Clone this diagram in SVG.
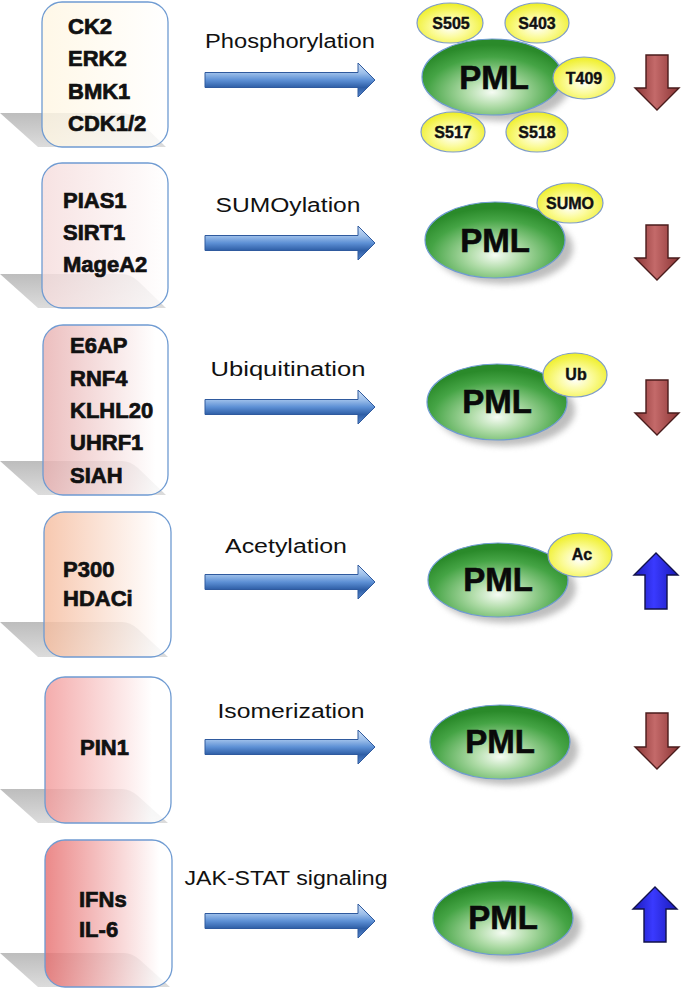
<svg xmlns="http://www.w3.org/2000/svg" width="686" height="992" viewBox="0 0 686 992">
<defs>
<style>
.box{stroke:#6f9bd2;stroke-width:1.3;fill-opacity:0.82}
.shadow{fill:url(#shadowG)}
.btxt{font-family:"Liberation Sans",Arial,sans-serif;font-weight:bold;font-size:22px;fill:#111;stroke:#111;stroke-width:0.7}
.lbl{font-family:"Liberation Sans",Arial,sans-serif;font-size:20px;fill:#111;text-anchor:middle}
.pml{fill:url(#pmlG);stroke:#6f9bd2;stroke-width:1.2}
.pmlsh{fill:#888;opacity:0.55;filter:url(#blur)}
.ptxt{font-family:"Liberation Sans",Arial,sans-serif;font-weight:bold;font-size:33px;fill:#0a0a0a;stroke:#0a0a0a;stroke-width:0.6;text-anchor:middle}
.site{fill:url(#siteG);stroke:#7f9cc8;stroke-width:1.2}
.stxt{font-family:"Liberation Sans",Arial,sans-serif;font-weight:bold;font-size:16px;fill:#111;stroke:#111;stroke-width:0.4;text-anchor:middle}
.rarr{fill:url(#rarrG);stroke:#2f5a9e;stroke-width:1}
.darr{fill:url(#darrG);stroke:#4a1c1c;stroke-width:1.4}
.uarr{fill:url(#uarrG);stroke:#12124a;stroke-width:1.4}
</style>
<filter id="blur" x="-20%" y="-40%" width="140%" height="180%"><feGaussianBlur stdDeviation="3"/></filter>
<linearGradient id="shadowG" x1="0" y1="0" x2="0" y2="1"><stop offset="0" stop-color="#bdbdbd"/><stop offset="1" stop-color="#dcdcdc"/></linearGradient>
<linearGradient id="b1" x1="0" y1="0" x2="1" y2="0"><stop offset="0" stop-color="#fff6e2"/><stop offset="1" stop-color="#ffffff"/></linearGradient>
<linearGradient id="b2" x1="0" y1="0" x2="1" y2="0"><stop offset="0" stop-color="#f5dcdc"/><stop offset="1" stop-color="#ffffff"/></linearGradient>
<linearGradient id="b3" x1="0" y1="0" x2="1" y2="0"><stop offset="0" stop-color="#e8b0b0"/><stop offset="0.9" stop-color="#ffffff"/></linearGradient>
<linearGradient id="b4" x1="0" y1="0" x2="1" y2="0"><stop offset="0" stop-color="#f5bc9e"/><stop offset="0.9" stop-color="#ffffff"/></linearGradient>
<linearGradient id="b5" x1="0" y1="0" x2="1" y2="0"><stop offset="0" stop-color="#f29a9a"/><stop offset="0.85" stop-color="#ffffff"/></linearGradient>
<linearGradient id="b6" x1="0" y1="0" x2="1" y2="0"><stop offset="0" stop-color="#e76f6f"/><stop offset="0.9" stop-color="#ffffff"/></linearGradient>
<radialGradient id="pmlG" cx="0.5" cy="0.7" r="0.62"><stop offset="0" stop-color="#f6fcf4"/><stop offset="0.3" stop-color="#b0dca8"/><stop offset="0.75" stop-color="#45a445"/><stop offset="1" stop-color="#2a8a2a"/></radialGradient>
<radialGradient id="siteG" cx="0.5" cy="0.6" r="0.6"><stop offset="0" stop-color="#ffffff"/><stop offset="0.45" stop-color="#fbfb9a"/><stop offset="1" stop-color="#eeee22"/></radialGradient>
<linearGradient id="rarrG" x1="0" y1="0" x2="0" y2="1"><stop offset="0" stop-color="#cfe0f6"/><stop offset="0.3" stop-color="#9abde9"/><stop offset="0.5" stop-color="#5d90d5"/><stop offset="0.72" stop-color="#2e5ea6"/><stop offset="1" stop-color="#5a88cc"/></linearGradient>
<linearGradient id="darrG" x1="0" y1="0" x2="1" y2="0"><stop offset="0" stop-color="#8a3434"/><stop offset="0.45" stop-color="#c46a6a"/><stop offset="1" stop-color="#8a3434"/></linearGradient>
<linearGradient id="uarrG" x1="0" y1="0" x2="1" y2="0"><stop offset="0" stop-color="#1a1ab8"/><stop offset="0.45" stop-color="#3a3aff"/><stop offset="1" stop-color="#1a1ab8"/></linearGradient>
</defs>
<rect width="686" height="992" fill="#ffffff"/>

<g id="row1-enzymes">
<path class="shadow" d="M0,113 H122 Q130,113 138,120 L166,147 H38 Z"/>
<rect class="box" x="42" y="2" width="126" height="145" rx="20" fill="url(#b1)"/>
<text class="btxt" x="68" y="34">CK2</text>
<text class="btxt" x="68" y="66">ERK2</text>
<text class="btxt" x="68" y="99">BMK1</text>
<text class="btxt" x="68" y="131">CDK1/2</text>
</g>
<g id="row2-enzymes">
<path class="shadow" d="M0,274 H122 Q130,274 138,281 L166,308 H38 Z"/>
<rect class="box" x="42" y="163" width="126" height="145" rx="20" fill="url(#b2)"/>
<text class="btxt" x="63" y="208">PIAS1</text>
<text class="btxt" x="63" y="240">SIRT1</text>
<text class="btxt" x="63" y="272">MageA2</text>
</g>
<g id="row3-enzymes">
<path class="shadow" d="M0,461 H122 Q130,461 138,468 L166,495 H38 Z"/>
<rect class="box" x="43" y="325" width="125" height="170" rx="20" fill="url(#b3)"/>
<text class="btxt" x="70" y="353">E6AP</text>
<text class="btxt" x="70" y="386">RNF4</text>
<text class="btxt" x="70" y="418">KLHL20</text>
<text class="btxt" x="70" y="450">UHRF1</text>
<text class="btxt" x="70" y="483">SIAH</text>
</g>
<g id="row4-enzymes">
<path class="shadow" d="M0,622 H122 Q130,622 138,629 L168,657 H38 Z"/>
<rect class="box" x="44" y="512" width="127" height="145" rx="20" fill="url(#b4)"/>
<text class="btxt" x="63" y="577">P300</text>
<text class="btxt" x="63" y="606">HDACi</text>
</g>
<g id="row5-enzymes">
<path class="shadow" d="M0,789 H122 Q130,789 138,796 L168,823 H38 Z"/>
<rect class="box" x="45" y="677" width="126" height="146" rx="20" fill="url(#b5)"/>
<text class="btxt" x="80" y="755">PIN1</text>
</g>
<g id="row6-enzymes">
<path class="shadow" d="M0,953 H124 Q132,953 140,960 L170,987 H38 Z"/>
<rect class="box" x="45" y="840" width="127" height="147" rx="20" fill="url(#b6)"/>
<text class="btxt" x="79" y="907">IFNs</text>
<text class="btxt" x="79" y="937">IL-6</text>
</g>

<g id="connectors">
<path class="rarr" d="M205,72.5 H358 V63 L375,80 L358,97 V87.5 H205 Z"/>
<path class="rarr" d="M205,235.5 H358 V226 L375,243 L358,260 V250.5 H205 Z"/>
<path class="rarr" d="M205,399.5 H358 V390 L375,407 L358,424 V414.5 H205 Z"/>
<path class="rarr" d="M205,574.5 H358 V565 L375,582 L358,599 V589.5 H205 Z"/>
<path class="rarr" d="M205,739.5 H358 V730 L375,747 L358,764 V754.5 H205 Z"/>
<path class="rarr" d="M205,913.5 H358 V904 L375,921 L358,938 V928.5 H205 Z"/>
<text class="lbl" x="290" y="48" textLength="170" lengthAdjust="spacingAndGlyphs">Phosphorylation</text>
<text class="lbl" x="288" y="212" textLength="145" lengthAdjust="spacingAndGlyphs">SUMOylation</text>
<text class="lbl" x="288" y="376" textLength="155" lengthAdjust="spacingAndGlyphs">Ubiquitination</text>
<text class="lbl" x="286" y="553" textLength="122" lengthAdjust="spacingAndGlyphs">Acetylation</text>
<text class="lbl" x="291" y="718" textLength="147" lengthAdjust="spacingAndGlyphs">Isomerization</text>
<text class="lbl" x="286" y="885" textLength="203" lengthAdjust="spacingAndGlyphs">JAK-STAT signaling</text>
</g>

<g id="pml1">
<ellipse class="pmlsh" cx="500" cy="85" rx="70" ry="36"/>
<ellipse class="pml" cx="492" cy="77" rx="70" ry="38"/>
<text class="ptxt" x="494" y="89">PML</text>
<ellipse class="site" cx="450" cy="23" rx="33" ry="20"/>
<text class="stxt" x="451" y="29">S505</text>
<ellipse class="site" cx="537" cy="23" rx="32" ry="20"/>
<text class="stxt" x="537" y="29">S403</text>
<ellipse class="site" cx="584" cy="78" rx="31" ry="21"/>
<text class="stxt" x="584" y="84">T409</text>
<ellipse class="site" cx="453" cy="132" rx="32" ry="20"/>
<text class="stxt" x="453" y="138">S517</text>
<ellipse class="site" cx="537" cy="132" rx="31" ry="20"/>
<text class="stxt" x="537" y="138">S518</text>
</g>
<g id="pml2">
<ellipse class="pmlsh" cx="503" cy="248" rx="70" ry="36"/>
<ellipse class="pml" cx="495" cy="240" rx="70" ry="38"/>
<text class="ptxt" x="495" y="252">PML</text>
<ellipse class="site" cx="570" cy="203" rx="33" ry="20"/>
<text class="stxt" x="570" y="209">SUMO</text>
</g>
<g id="pml3">
<ellipse class="pmlsh" cx="505" cy="410" rx="70" ry="36"/>
<ellipse class="pml" cx="497" cy="402" rx="70" ry="38"/>
<text class="ptxt" x="497" y="413">PML</text>
<ellipse class="site" cx="575" cy="375" rx="32" ry="22"/>
<text class="stxt" x="576" y="380">Ub</text>
</g>
<g id="pml4">
<ellipse class="pmlsh" cx="506" cy="588" rx="70" ry="35"/>
<ellipse class="pml" cx="498" cy="580" rx="70" ry="37"/>
<text class="ptxt" x="498" y="591">PML</text>
<ellipse class="site" cx="580" cy="555" rx="32" ry="22"/>
<text class="stxt" x="582" y="560">Ac</text>
</g>
<g id="pml5">
<ellipse class="pmlsh" cx="508" cy="750" rx="70" ry="35"/>
<ellipse class="pml" cx="500" cy="742" rx="70" ry="37"/>
<text class="ptxt" x="500" y="753">PML</text>
</g>
<g id="pml6">
<ellipse class="pmlsh" cx="511" cy="926" rx="70" ry="35"/>
<ellipse class="pml" cx="503" cy="918" rx="70" ry="37"/>
<text class="ptxt" x="503" y="929">PML</text>
</g>

<g id="effect1"><path class="darr" d="M646,55 H668 V88 H679 L657,110 L635,88 H646 Z"/></g>
<g id="effect2"><path class="darr" d="M646,225 H668 V258 H679 L657,280 L635,258 H646 Z"/></g>
<g id="effect3"><path class="darr" d="M646,380 H668 V413 H679 L657,435 L635,413 H646 Z"/></g>
<g id="effect4"><path class="uarr" d="M656,553 L678,575 H667 V609 H645 V575 H634 Z"/></g>
<g id="effect5"><path class="darr" d="M646,713 H668 V747 H679 L657,769 L635,747 H646 Z"/></g>
<g id="effect6"><path class="uarr" d="M655,887 L677,909 H666 V942 H644 V909 H633 Z"/></g>
</svg>
